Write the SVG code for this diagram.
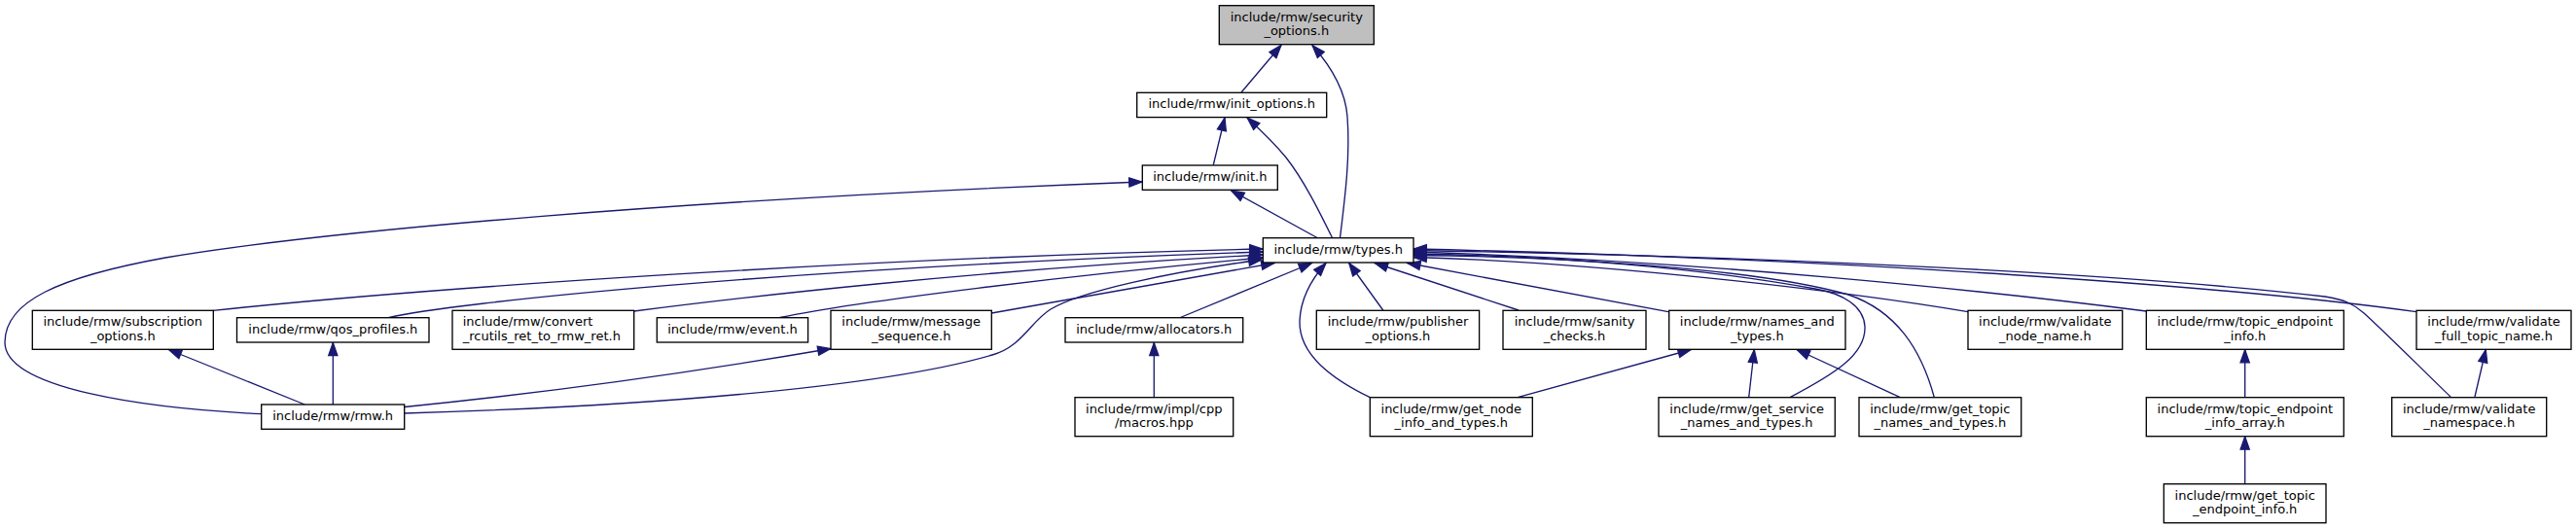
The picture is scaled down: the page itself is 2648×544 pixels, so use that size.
<svg xmlns="http://www.w3.org/2000/svg" width="2648" height="544" viewBox="0 0 2648 544">
<style>
.node rect{fill:#ffffff;stroke:#000000;stroke-width:1.33}
.root rect{fill:#bfbfbf}
text{font-family:"DejaVu Sans",sans-serif;font-size:13px;text-anchor:middle;fill:#000000}
.edge{fill:none;stroke:#191970;stroke-width:1.33;marker-end:url(#arr)}
</style>
<defs>
<marker id="arr" markerUnits="userSpaceOnUse" markerWidth="14" markerHeight="10" viewBox="0 0 14 10" refX="13.3" refY="4.67" orient="auto" style="overflow:visible">
<path d="M0,0 L13.3,4.67 L0,9.33 z" fill="#191970" stroke="#191970" stroke-width="1.2"/>
</marker>
</defs>
<rect x="0" y="0" width="2648" height="544" fill="#ffffff"/>
<g id="connectors">
<path class="edge" d="M1276,95 L1317,46.5"/>
<path class="edge" d="M1377.5,244.5 C1383,200 1388,160 1385,120 C1383,92 1368,68 1349,46.5"/>
<path class="edge" d="M1247.3,169.5 L1259,121"/>
<path class="edge" d="M1369.5,244.5 C1355,215 1340,185 1322,162 C1308,145 1295,133 1282,121"/>
<path class="edge" d="M1354,244.5 L1265.7,196"/>
<path class="edge" d="M268.7,425.7 C150,420 5,400 5,352 C5,310 60,285 170,265 C330,238 700,205 1174,187"/>
<path class="edge" d="M219,319.3 C450,295 900,265 1298,256"/>
<path class="edge" d="M400,326.5 C460,312 800,276 1298,259"/>
<path class="edge" d="M651.7,320 C760,306 1000,278 1298,262"/>
<path class="edge" d="M801.7,326.5 C880,310 1100,283 1298,265"/>
<path class="edge" d="M1019.3,322 L1310,270.5"/>
<path class="edge" d="M415.7,425 C650,418 900,400 1020,365 C1050,357 1060,330 1080,318 C1110,300 1200,280 1297,267"/>
<path class="edge" d="M1213.3,326.5 L1348.5,270.5"/>
<path class="edge" d="M1408.3,408.7 C1370,390 1335,365 1336,330 C1337,305 1350,285 1363,270.5"/>
<path class="edge" d="M1421.7,319 L1386.7,270.5"/>
<path class="edge" d="M1561,319 L1413.3,270.5"/>
<path class="edge" d="M1715,320.7 L1446.7,270.5"/>
<path class="edge" d="M1840,408.7 C1885,385 1918,365 1917,336 C1916,315 1895,302 1866,297 C1750,276 1600,263 1453,261"/>
<path class="edge" d="M1988.3,408.7 C1975,360 1950,320 1900,303 C1800,275 1600,264 1453,262.5"/>
<path class="edge" d="M2023,320.7 C1900,300 1650,270 1453,264.5"/>
<path class="edge" d="M2206.3,320 C2050,300 1750,268 1453,259"/>
<path class="edge" d="M2484,320.7 C2300,295 1900,266 1453,256"/>
<path class="edge" d="M2519,408 C2490,380 2450,340 2430,322 C2420,313 2410,308 2390,305 C2200,283 1850,264 1453,257.5"/>
<path class="edge" d="M313.3,416 L173.3,359.5"/>
<path class="edge" d="M342.3,416 L342.3,352.3"/>
<path class="edge" d="M415.7,418.5 C550,405 700,385 854,358.5"/>
<path class="edge" d="M1186.3,408.7 L1186.3,352.3"/>
<path class="edge" d="M1560,408.7 L1738.3,359.5"/>
<path class="edge" d="M1797.7,408.7 L1803.3,359.5"/>
<path class="edge" d="M1953.3,408.7 L1847,359.5"/>
<path class="edge" d="M2307.7,408.7 L2307.7,359.5"/>
<path class="edge" d="M2307.7,497.7 L2307.7,448.9"/>
<path class="edge" d="M2544,408 L2555.3,359.5"/>
</g>
<g id="security_options" class="node root"><rect x="1253.3" y="5.7" width="159" height="40"/><text x="1332.8" y="21.7">include/rmw/security</text><text x="1332.8" y="36.4">_options.h</text></g>
<g id="init_options" class="node"><rect x="1168.7" y="95.3" width="195" height="25.3"/><text x="1266.2" y="111.3">include/rmw/init_options.h</text></g>
<g id="init" class="node"><rect x="1174.3" y="170" width="139" height="25.3"/><text x="1243.8" y="186">include/rmw/init.h</text></g>
<g id="types" class="node"><rect x="1298.3" y="244.7" width="154.7" height="25.3"/><text x="1375.7" y="260.7">include/rmw/types.h</text></g>
<g id="subscription_options" class="node"><rect x="33.3" y="319.3" width="186" height="40"/><text x="126.3" y="335.3">include/rmw/subscription</text><text x="126.3" y="350">_options.h</text></g>
<g id="qos_profiles" class="node"><rect x="243.5" y="326.7" width="197.5" height="25.3"/><text x="342.3" y="342.7">include/rmw/qos_profiles.h</text></g>
<g id="convert" class="node"><rect x="465" y="319.3" width="186.7" height="40"/><text x="475.7" y="335.3" style="text-anchor:start">include/rmw/convert</text><text x="475.7" y="350" style="text-anchor:start">_rcutils_ret_to_rmw_ret.h</text></g>
<g id="event" class="node"><rect x="675.3" y="326.7" width="155.3" height="25.3"/><text x="753" y="342.7">include/rmw/event.h</text></g>
<g id="message_sequence" class="node"><rect x="854" y="319.3" width="165.3" height="40"/><text x="936.7" y="335.3">include/rmw/message</text><text x="936.7" y="350">_sequence.h</text></g>
<g id="allocators" class="node"><rect x="1095" y="326.7" width="182.7" height="25.3"/><text x="1186.3" y="342.7">include/rmw/allocators.h</text></g>
<g id="publisher_options" class="node"><rect x="1353.3" y="319.3" width="167.3" height="40"/><text x="1437" y="335.3">include/rmw/publisher</text><text x="1437" y="350">_options.h</text></g>
<g id="sanity_checks" class="node"><rect x="1545" y="319.3" width="147" height="40"/><text x="1618.5" y="335.3">include/rmw/sanity</text><text x="1618.5" y="350">_checks.h</text></g>
<g id="names_and_types" class="node"><rect x="1715.7" y="319.3" width="181.3" height="40"/><text x="1806.3" y="335.3">include/rmw/names_and</text><text x="1806.3" y="350">_types.h</text></g>
<g id="validate_node_name" class="node"><rect x="2023" y="319.3" width="158.7" height="40"/><text x="2102.3" y="335.3">include/rmw/validate</text><text x="2102.3" y="350">_node_name.h</text></g>
<g id="topic_endpoint_info" class="node"><rect x="2206.3" y="319.3" width="203" height="40"/><text x="2307.8" y="335.3">include/rmw/topic_endpoint</text><text x="2307.8" y="350">_info.h</text></g>
<g id="validate_full_topic_name" class="node"><rect x="2484" y="319.3" width="159" height="40"/><text x="2563.5" y="335.3">include/rmw/validate</text><text x="2563.5" y="350">_full_topic_name.h</text></g>
<g id="rmw" class="node"><rect x="268.7" y="416" width="147" height="25.3"/><text x="342.2" y="432">include/rmw/rmw.h</text></g>
<g id="macros" class="node"><rect x="1105" y="408.7" width="162.7" height="40"/><text x="1186.3" y="424.7">include/rmw/impl/cpp</text><text x="1186.3" y="439.4">/macros.hpp</text></g>
<g id="get_node_info_and_types" class="node"><rect x="1408.3" y="408.7" width="167" height="40"/><text x="1491.8" y="424.7">include/rmw/get_node</text><text x="1491.8" y="439.4">_info_and_types.h</text></g>
<g id="get_service_names_and_types" class="node"><rect x="1705" y="408.7" width="181.3" height="40"/><text x="1795.7" y="424.7">include/rmw/get_service</text><text x="1795.7" y="439.4">_names_and_types.h</text></g>
<g id="get_topic_names_and_types" class="node"><rect x="1911" y="408.7" width="166.7" height="40"/><text x="1994.3" y="424.7">include/rmw/get_topic</text><text x="1994.3" y="439.4">_names_and_types.h</text></g>
<g id="topic_endpoint_info_array" class="node"><rect x="2206.3" y="408.7" width="203" height="40"/><text x="2307.8" y="424.7">include/rmw/topic_endpoint</text><text x="2307.8" y="439.4">_info_array.h</text></g>
<g id="validate_namespace" class="node"><rect x="2458.7" y="408.7" width="159" height="40"/><text x="2538.2" y="424.7">include/rmw/validate</text><text x="2538.2" y="439.4">_namespace.h</text></g>
<g id="get_topic_endpoint_info" class="node"><rect x="2224.3" y="497.7" width="166.7" height="40"/><text x="2307.7" y="513.7">include/rmw/get_topic</text><text x="2307.7" y="528.4">_endpoint_info.h</text></g>
</svg>
